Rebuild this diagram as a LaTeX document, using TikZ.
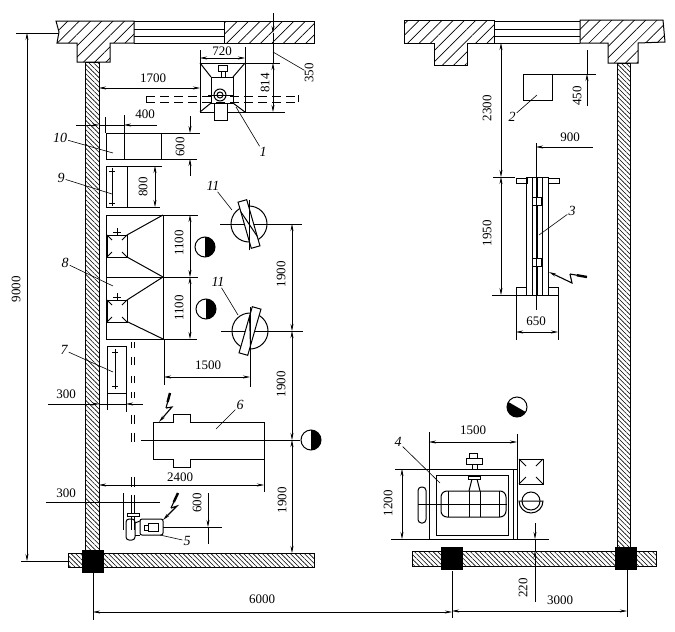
\documentclass[tikz,border=0pt]{standalone}
\usepackage{fontspec}
\setmainfont{Liberation Serif}
\usetikzlibrary{arrows.meta,patterns.meta,calc}
\tikzstyle{bigwall}=[draw,line width=1pt,pattern={Lines[angle=45,distance=8pt,line width=.7pt]}]
\tikzstyle{thinwall}=[draw,line width=.9pt,pattern={Lines[angle=-45,distance=3.3pt,line width=.6pt]}]
\tikzstyle{device}=[draw,line width=1pt]
\tikzstyle{thinline}=[draw,line width=.6pt]
\tikzstyle{dimline}=[draw,line width=.6pt]
\tikzstyle{rail}=[draw,line width=.9pt,dash pattern=on 9pt off 5pt]
\tikzstyle{leader}=[draw,line width=.6pt]
\tikzstyle{size}=[font=\fontsize{13}{14}\selectfont,inner sep=0pt]
\tikzstyle{tag}=[font=\fontsize{14}{15}\selectfont\itshape,inner sep=1pt]
\tikzset{>={Stealth[length=7pt,width=3pt]}}

\begin{document}
\begin{tikzpicture}[x=1pt,y=-1pt]
    \useasboundingbox (0,0) rectangle (675,632);
    % First we draw the walls
    \path[bigwall] (56,21) -- (134,21) -- (134,43) -- (110,43) -- (110,62) -- (77,62) -- (77,43) -- (57,43) -- (59,32) -- cycle;
    \path[bigwall] (224,21) rectangle (314,43);
    \path[bigwall] (404,20) -- (494,20) -- (494,43) -- (467,43) -- (467,65) -- (434,65) -- (434,43) -- (404,43) -- cycle;
    \path[bigwall] (580,20) -- (663,20) -- (665,42) -- (638,43) -- (638,63) -- (608,63) -- (608,43) -- (580,43) -- cycle;
    \foreach \xa/\xb in {134/224, 494/580}
        \foreach \ya in {21,29,36,43}
            \path[device] (\xa,\ya) -- (\xb,\ya);
    \path[thinwall] (85,62) rectangle (99,550);
    \path[thinwall] (617,63) rectangle (630,547);
    \path[thinwall] (68,553) rectangle (314,567);
    \path[thinwall] (412,551) rectangle (656,566);
    \foreach \pos/\name in {{(82,550)}/colA, {(441,547)}/colB, {(615,547)}/colC}
        \fill \pos coordinate (\name) rectangle +(22,23);

    % device 1
    \path[device] (200,63) rectangle (245,112);
    \path[device] (211,77) rectangle (233,103);
    \foreach \xa/\ya/\xb/\yb in {200/63/211/77, 245/63/233/77, 200/112/211/103, 245/112/233/103}
        \path[device] (\xa,\ya) -- (\xb,\yb);
    \path[device,fill=white] (218,65) rectangle (227,71);
    \path[device,fill=white] (221,71) rectangle (225,77);
    \path[device,fill=white] (214,103) rectangle (227,120);
    \path[rail] (146,96) -- (297,96);
    \path[rail] (146,102) -- (297,102);
    \path[thinline] (146,96) -- (146,102);
    \path[device] (298,95) -- (298,102);
    \path[device,fill=white] (220,95) circle (6);
    \path[device] (220,95) circle (3);
    \path[thinline] (208,95) -- (234,95);

    % devices 10, 9, 7
    \path[device] (106,133) rectangle (161,159);
    \path[device] (106,166) rectangle (127,207);
    \path[device] (107,346) rectangle (126,393);
    \foreach \xa/\ya/\yb in {112/168/206, 115/349/389}{
        \path[device] (\xa,\ya) -- (\xa,\yb);
        \path[device] (\xa-3,\ya+3) -- (\xa+3,\ya+3);
        \path[device] (\xa-3,\yb-3) -- (\xa+3,\yb-3);
    }

    % device 8
    \path[device] (106,215) rectangle (163,339);
    \path[thinline] (106,277) -- (163,277);
    \foreach \y in {235,300}{
        \path[device] (107,\y) rectangle (127,\y+22);
        \path[device] (107,\y) -- (112,\y+5);
        \path[device] (127,\y) -- (122,\y+5);
        \path[device] (107,\y+22) -- (112,\y+17);
        \path[device] (127,\y+22) -- (122,\y+17);
        \path[device] (117,\y-7) -- (117,\y);
        \path[device] (113,\y-3) -- (121,\y-3);
    }
    \foreach \xa/\ya/\xb/\yb in {127/235/163/215, 127/257/163/277, 127/300/163/277, 128/322/163/339}
        \path[device] (\xa,\ya) -- (\xb,\yb);

    % motors 11
    \foreach \cx/\cy/\tilt/\ya/\yb in {249/224/16/206/250, 250/331/-16/309/387}{
        \path[thinline] (\cx-29,\cy) -- (\cx+53,\cy);
        \path[thinline] (\cx,\ya) -- (\cx,\yb);
        \path[device] (\cx,\cy) circle (18);
        \begin{scope}[shift={(\cx,\cy)},rotate=\tilt]
            \path[device,fill=white] (-4.5,-24) rectangle (4.5,24);
            \path[device] (-4.5,-14) -- (4.5,14);
        \end{scope}
        \path[thinline] (\cx,\cy-24) -- (\cx,\cy+24);
    }

    % half black discs
    \foreach \cx/\cy/\tilt in {205/247/0, 206/309/0, 311/440/0, 517/407/-120}{
        \path[device,fill=white] (\cx,\cy) circle (10);
        \fill[rotate around={\tilt:(\cx,\cy)}] (\cx,\cy-10) arc (-90:90:10) -- cycle;
    }

    % dashed rail near 7
    \foreach \ya/\yb in {342/348, 357/365, 376/383, 392/398, 415/424, 433/442, 477/487, 495/510, 510/530}{
        \path[thinline,line width=.9pt] (131.5,\ya) -- (131.5,\yb);
        \path[thinline,line width=.9pt] (134.5,\ya) -- (134.5,\yb);
    }

    % device 6
    \path[device] (153,422) -- (173,422) -- (173,414) -- (190,414) -- (190,422) -- (264,422) -- (264,459) -- (190,459) -- (190,467) -- (173,467) -- (173,459) -- (153,459) -- cycle;
    \path[thinline] (141,440) -- (300,440);

    % motor 5
    \path[device,rounded corners=2pt] (140,519) rectangle (163,535);
    \path[device,fill=white] (148,523) rectangle (158,531);
    \path[device,fill=white] (144,525) rectangle (148,530);
    \path[device,rounded corners=3pt] (126,519) rectangle (135,540);
    \path[device] (135,523) -- (140,521);
    \path[device] (135,535) -- (140,535);
    \path[device,fill=white] (127,513) rectangle (139,516);
    \path[thinline] (123,493) -- (123,530);
    \path[thinline] (163,527) -- (222,527);

    % device 3
    \path[device] (526,177) rectangle (548,295);
    \foreach \x in {532,537,542}
        \path[device] (\x,177) -- (\x,295);
    \foreach \pos in {{(516,178)}, {(548,178)}}
        \path[device] \pos rectangle +(11,5);
    \foreach \pos in {{(516,287)}, {(548,287)}}
        \path[device] \pos rectangle +(10,8);
    \foreach \y in {197,258}{
        \path[device,fill=white] (532,\y) rectangle (541,\y+8);
    }
    \path[thinline] (536,143) -- (536,310);

    % devices 2 and 4
    \path[device] (523,74) rectangle (552,100);
    \path[device] (429,469) rectangle (517,539);
    \path[device] (436,475) rectangle (508,535);
    \path[device] (513,469) -- (513,539);
    \path[device,rounded corners=6pt] (441,491) rectangle (506,517);
    \foreach \x in {448,469,480,499}
        \path[device] (\x,491) -- (\x,517);
    \path[thinline] (418,504) -- (507,504);
    \path[device] (469,491) -- (472,479) -- (477,479) -- (480,491);
    \path[device,fill=white] (468,476) rectangle (480,479);
    \path[device] (472,464) -- (472,469);
    \path[device] (477,464) -- (477,469);
    \path[device,fill=white] (466,458) rectangle (482,464);
    \path[device,fill=white] (469,453) rectangle (477,458);
    \path[device,rounded corners=3.5pt] (418,487) rectangle (426,523);
    \path[device] (519,459) rectangle (543,484);
    \foreach \xa/\ya/\xb/\yb in {519/459/526/466, 543/459/536/466, 519/484/526/477, 543/484/536/477}
        \path[device] (\xa,\ya) -- (\xb,\yb);
    \path[device] (531,501) circle (9);
    \path[device] (519,501) arc (180:0:12) -- cycle;

    % Lightning marks
    \foreach \ax/\ay/\bx/\by/\cx/\cy/\dx/\dy in {170/393/166/408/172/407/159/422, 178/493/171/508/177/506/163/520, 587/277/570/274/572/283/549/272}{
        \draw[line width=1.1pt,->] (\bx,\by) -- (\cx,\cy) -- (\dx,\dy);
        \draw[line width=2.4pt] (\ax,\ay) -- ($(\ax,\ay)!.6!(\bx,\by)$);
        \draw[line width=1.1pt] ($(\ax,\ay)!.5!(\bx,\by)$) -- (\bx,\by);
    }

    % Extension lines
    \foreach \xa/\ya/\xb/\yb in {
        16/33/59/33, 21/561/68/561,
        200/50/200/63, 245/47/245/63, 245/63/280/63, 245/112/285/112,
        105/117/105/133, 124/115/124/159, 161/133/200/133, 161/159/197/159,
        127/166/162/166, 127/207/160/207,
        163/215/198/215, 163/277/198/277, 163/339/197/339,
        164/339/164/385, 250/331/250/387,
        107/393/107/410, 126/393/126/412,
        264/459/264/492, 493/177/515/177, 492/295/516/295,
        552/74/596/74, 516/295/516/340, 558/295/558/340,
        429/432/429/469, 517/434/517/470, 395/469/429/469, 391/539/549/539,
        93/572/93/620, 452/571/452/618, 627/570/627/617,
        46/502/160/502}
        \path[thinline] (\xa,\ya) -- (\xb,\yb);

    % Dimension lines with two tips
    \foreach \xa/\ya/\xb/\yb in {
        27/33/27/561, 99/88/200/88, 200/58/245/58, 273/63/273/112,
        155/166/155/207, 190/215/190/277, 190/277/190/339,
        164/377/250/377, 292/224/292/331, 292/331/292/440, 292/440/292/553,
        99/485/264/485, 93/612/452/612, 452/611/627/611,
        402/469/402/539, 429/442/517/442,
        501/43/501/177, 501/177/501/295, 516/332/558/332}
        \path[dimline,<->] (\xa,\ya) -- (\xb,\yb);

    % Dimension lines with tips on the outside
    \foreach \xa/\ya/\xb/\yb in {
        76/125/99/125, 157/125/124/125,
        273/13/273/33, 190/116/190/133, 190/176/190/159,
        48/404/99/404, 143/404/126/404,
        208/493/208/527, 587/106/587/74,
        535/523/535/539, 535/602/535/551, 593/147/536/147}
        \path[dimline,->] (\xa,\ya) -- (\xb,\yb);
    \path[thinline] (99,125) -- (124,125);
    \path[thinline] (273,33) -- (273,63);
    \path[thinline] (208,527) -- (208,544);
    \path[thinline] (587,50) -- (587,74);
    \path[thinline] (535,539) -- (535,551);
    \path[thinline] (99,404) -- (126,404);

    % Sizes written along the lines
    \foreach \pos/\name/\size in {
        {(153,78)}/szA/1700, {(222,51)}/szB/720, {(145,114)}/szC/400,
        {(66,394)}/szD/300, {(66,493)}/szE/300, {(208,365)}/szF/1500,
        {(180,477)}/szG/2400, {(262,599)}/szH/6000, {(560,600)}/szI/3000,
        {(473,430)}/szJ/1500, {(570,137)}/szK/900, {(536,321)}/szL/650}
        \node[size] (\name) at \pos {\size};
    \foreach \pos/\name/\size in {
        {(16,289)}/szM/9000, {(309,73)}/szN/350, {(265,83)}/szO/814,
        {(180,147)}/szP/600, {(143,187)}/szQ/800, {(179,243)}/szR/1100,
        {(179,308)}/szS/1100, {(281,274)}/szT/1900, {(281,384)}/szU/1900,
        {(282,500)}/szV/1900, {(197,503)}/szW/600, {(487,108)}/szX/2300,
        {(487,233)}/szY/1950, {(577,96)}/szZ/450, {(388,503)}/szAA/1200,
        {(523,588)}/szAB/220}
        \node[size,rotate=90] (\name) at \pos {\size};
    \coordinate (ptS) at (273,52);
    \path[leader] (szN) -- (ptS);

    % Part numbers with their leaders
    \node[tag] (labA) at (263,152) {1};
    \node[tag] (labB) at (512,117) {2};
    \node[tag] (labC) at (572,211) {3};
    \node[tag] (labD) at (398,442) {4};
    \node[tag] (labE) at (187,541) {5};
    \node[tag] (labF) at (240,405) {6};
    \node[tag] (labG) at (64,350) {7};
    \node[tag] (labH) at (65,263) {8};
    \node[tag] (labI) at (61,178) {9};
    \node[tag] (labJ) at (60,138) {10};
    \node[tag] (labK) at (213,186) {11};
    \node[tag] (labL) at (218,282) {11};
    \coordinate (endA) at (236,107);
    \coordinate (endB) at (537,95);
    \coordinate (endC) at (539,235);
    \coordinate (endD) at (440,483);
    \coordinate (endE) at (160,535);
    \coordinate (endF) at (216,429);
    \coordinate (endG) at (113,372);
    \coordinate (endH) at (113,286);
    \coordinate (endI) at (112,194);
    \coordinate (endJ) at (113,153);
    \coordinate (endK) at (232,210);
    \coordinate (endL) at (238,315);
    \foreach \source/\dest in {labA/endA, labB/endB, labC/endC, labD/endD, labE/endE, labF/endF, labG/endG, labH/endH, labI/endI, labJ/endJ, labK/endK, labL/endL}
        \path[leader] (\source) -- (\dest);
\end{tikzpicture}
\end{document}
